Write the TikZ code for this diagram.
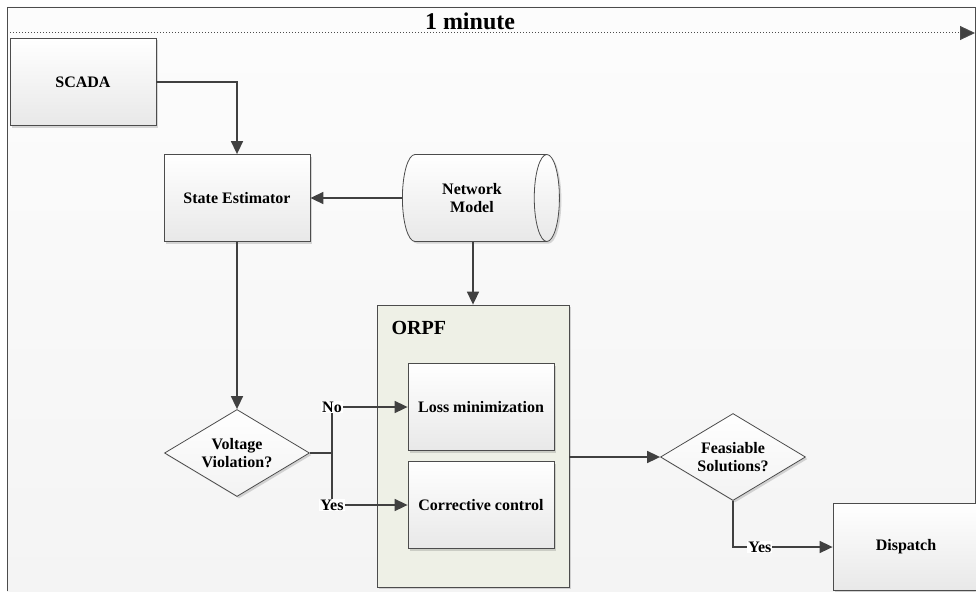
\documentclass[tikz,border=0pt]{standalone}
\usepackage{fontspec}
\setmainfont{Liberation Serif}
\usetikzlibrary{shapes.geometric,arrows.meta,shadows,positioning}
\definecolor{bgcol}{HTML}{F4F4F4}
\definecolor{orpfcol}{HTML}{EEF0E6}
\definecolor{linecol}{HTML}{404040}
\tikzset{
      every node/.style={font=\bfseries\fontsize{16}{18}\selectfont},
      shade/.style={drop shadow={shadow xshift=2pt,shadow yshift=-2pt,opacity=0.25,fill=black!60}},
      block/.style={draw=black!70, line width=0.8pt, top color=white, bottom color=black!9,
            minimum width=146pt, minimum height=87pt, align=center, shade},
      decision/.style={diamond, aspect=1.67, draw=black!70, line width=0.8pt, inner sep=0pt,
            top color=white, bottom color=black!5, minimum width=145pt, minimum height=87pt,
            align=center, shade},
      store/.style={cylinder, aspect=0.7, draw=black!70, line width=0.8pt, top color=white,
            bottom color=black!9, minimum width=87pt, minimum height=157pt, align=center, shade},
      group/.style={draw=black!70, line width=0.8pt, fill=orpfcol, minimum width=192pt,
            minimum height=282pt, shade},
      flow/.style={draw=linecol, line width=1.6pt, -{Triangle[length=13pt,width=12pt]}},
      link/.style={draw=linecol, line width=1.6pt},
      lbl/.style={fill=white, inner sep=1pt},
      timeline/.style={draw=black!70, dotted, line width=1pt,
            -{Triangle[length=15pt,width=14pt,fill=linecol]}}
}
\begin{document}
\begin{tikzpicture}[x=1pt,y=-1pt]
   \useasboundingbox (0,0) rectangle (976,591);
   \fill[top color=black!1, bottom color=bgcol] (7,7) rectangle (975,591);
   \draw[black!70, line width=0.8pt] (7,591) -- (7,7) -- (975,7) -- (975,591);

   % time axis
   \coordinate (tstart) at (7,33);
   \coordinate (tend) at (975,33);
   \draw[timeline] (tstart) -- (tend);
   \node[font=\bfseries\fontsize{24}{26}\selectfont] (tlabel) at (470,21) {1 minute};

   \node[block] (scada) at (83,82) {SCADA};
   \node[block] (se) at (237,198) {State Estimator};
   \node[store] (nm) at (472,198) {Network\\Model};
   \node[group] (orpf) at (473,446) {};
   \node[anchor=west, font=\bfseries\fontsize{20}{22}\selectfont] (orpftitle) at (388,328) {ORPF};
   \node[block] (loss) at (481,407) {Loss minimization};
   \node[block] (cc) at (481,505) {Corrective control};
   \node[decision] (vv) at (237,453) {Voltage\\Violation?};
   \node[decision] (fs) at (733,457) {Feasiable\\Solutions?};
   \node[block] (disp) at (906,547) {Dispatch};
   \coordinate (split) at (332,453);

   \draw[flow] (scada.east) -| (se.north);
   \draw[flow] (nm.west) -- (se.east);
   \draw[flow] (orpf.north |- nm.south) -- (orpf.north);
   \draw[flow] (se.south) -- (vv.north);
   \draw[link] (vv.east) -- (split);
   \draw[flow] (split) |- node[lbl]{No} (loss.west);
   \draw[flow] (split) |- node[lbl]{Yes} (cc.west);
   \draw[flow] (orpf.east |- fs.west) -- (fs.west);
   \draw[flow] (fs.south) |- node[lbl, pos=0.635]{Yes} (disp.west);
\end{tikzpicture}
\end{document}
